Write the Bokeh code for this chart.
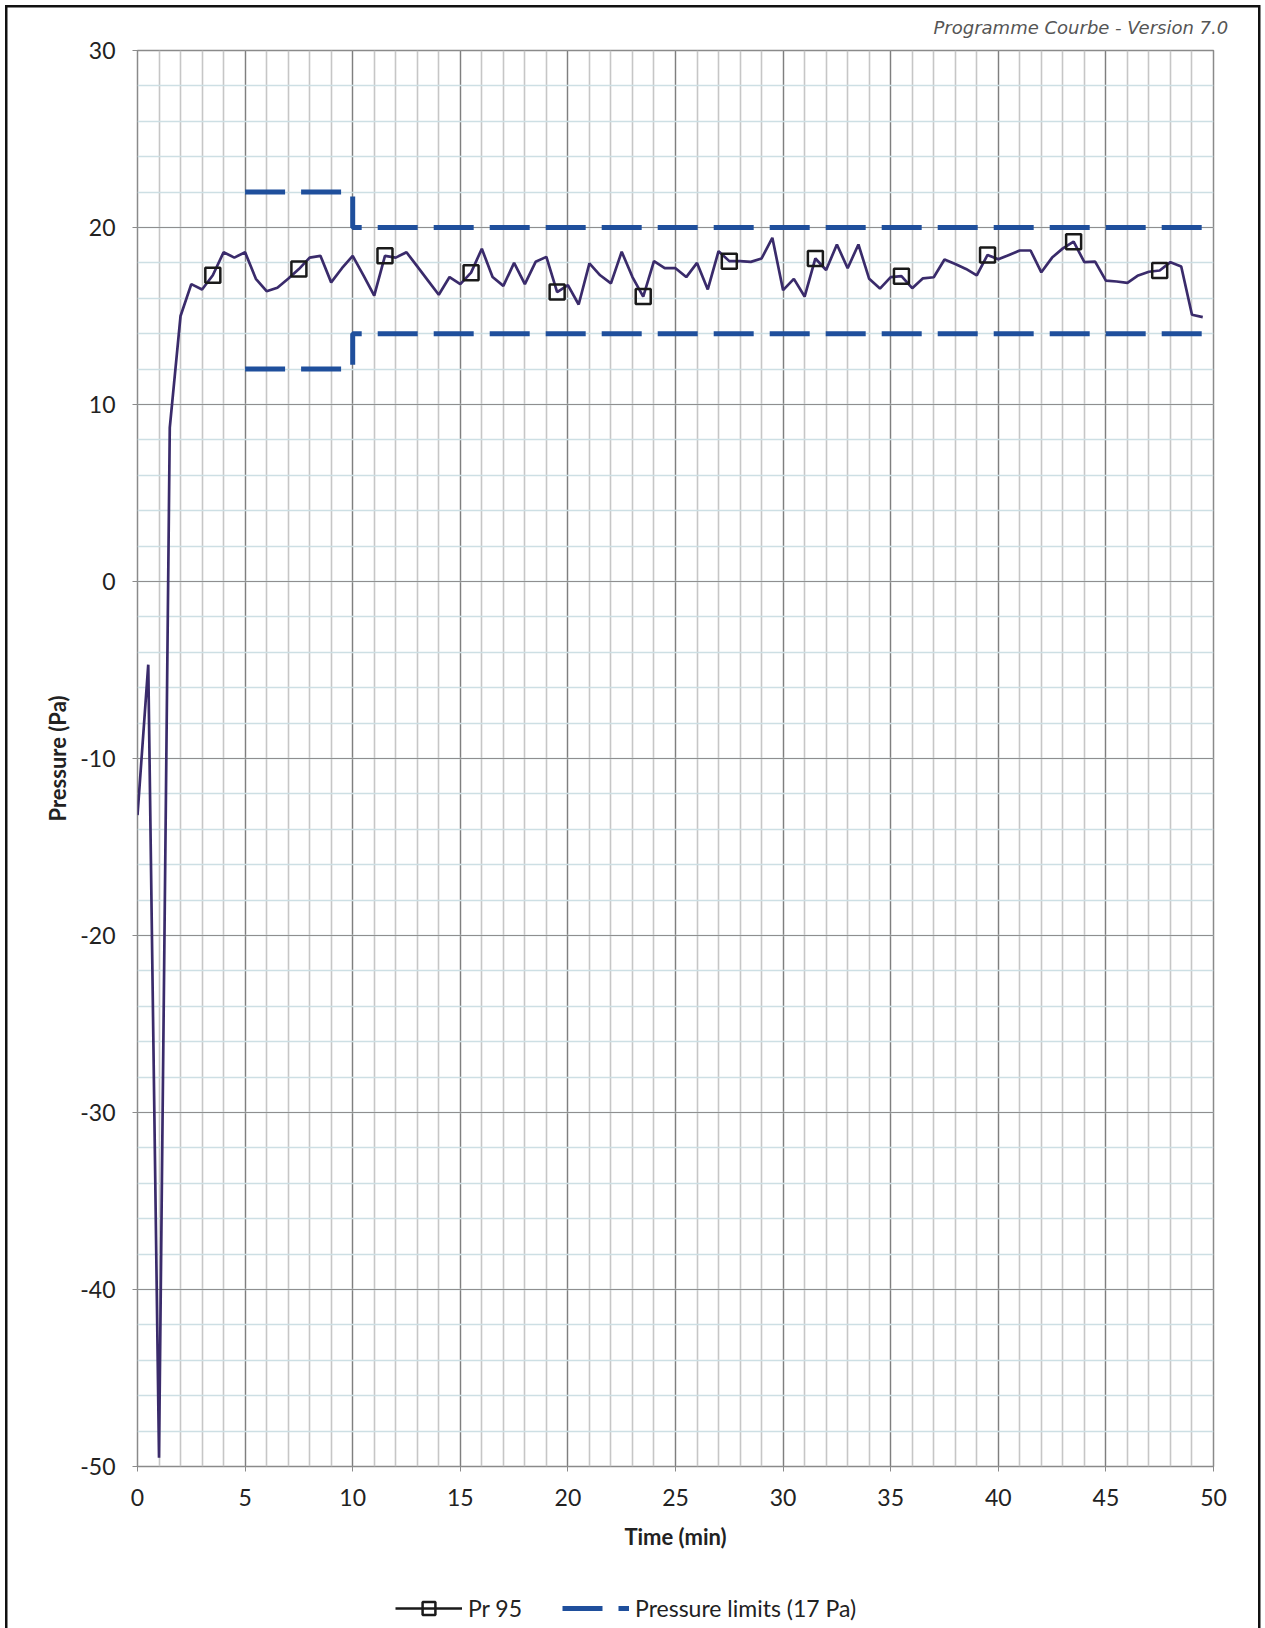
from bokeh.plotting import figure
from bokeh.layouts import column
from bokeh.models import Range1d, SingleIntervalTicker, Legend, LegendItem
from bokeh.embed import file_html
from bokeh.resources import INLINE

# ---------------- data ----------------
time_min = [0.0, 0.5, 1.0, 1.5, 2.0, 2.5, 3.0, 3.5, 4.0, 4.5,
            5.0, 5.5, 6.0, 6.5, 7.0, 7.5, 8.0, 8.5, 9.0, 9.5,
            10.0, 10.5, 11.0, 11.5, 12.0, 12.5, 13.0, 13.5, 14.0, 14.5,
            15.0, 15.5, 16.0, 16.5, 17.0, 17.5, 18.0, 18.5, 19.0, 19.5,
            20.0, 20.5, 21.0, 21.5, 22.0, 22.5, 23.0, 23.5, 24.0, 24.5,
            25.0, 25.5, 26.0, 26.5, 27.0, 27.5, 28.0, 28.5, 29.0, 29.5,
            30.0, 30.5, 31.0, 31.5, 32.0, 32.5, 33.0, 33.5, 34.0, 34.5,
            35.0, 35.5, 36.0, 36.5, 37.0, 37.5, 38.0, 38.5, 39.0, 39.5,
            40.0, 40.5, 41.0, 41.5, 42.0, 42.5, 43.0, 43.5, 44.0, 44.5,
            45.0, 45.5, 46.0, 46.5, 47.0, 47.5, 48.0, 48.5, 49.0, 49.5]

pr95 = [-13.2, -4.7, -49.5, 8.7, 15.0, 16.8, 16.5, 17.3, 18.6, 18.3,
        18.6, 17.1, 16.4, 16.6, 17.1, 17.65, 18.3, 18.4, 16.9, 17.7,
        18.4, 17.3, 16.15, 18.4, 18.3, 18.6, 17.8, 17.0, 16.2, 17.2,
        16.8, 17.45, 18.8, 17.2, 16.7, 18.0, 16.8, 18.06, 18.34, 16.35,
        16.74, 15.65, 17.97, 17.3, 16.84, 18.63, 17.2, 16.1, 18.1, 17.7,
        17.7, 17.2, 18.0, 16.5, 18.66, 18.1, 18.1, 18.06, 18.25, 19.42,
        16.46, 17.1, 16.1, 18.25, 17.6, 19.04, 17.7, 19.04, 17.1, 16.55,
        17.2, 17.25, 16.57, 17.13, 17.19, 18.19, 17.94, 17.66, 17.29, 18.45,
        18.2, 18.45, 18.7, 18.7, 17.47, 18.3, 18.82, 19.2, 18.04, 18.07,
        17.0, 16.95, 16.87, 17.29, 17.5, 17.57, 18.04, 17.8, 15.07, 14.94]

marker_time = [3.5, 7.5, 11.5, 15.5, 19.5, 23.5, 27.5, 31.5, 35.5, 39.5, 43.5, 47.5]
marker_pr = [pr95[time_min.index(t)] for t in marker_time]

limit_time = [5, 10, 10, 50]
upper_limit = [22, 22, 20, 20]
lower_limit = [12, 12, 14, 14]

y_tick_values = [-50, -40, -30, -20, -10, 0, 10, 20, 30]

series_name = "Pr 95"
limits_name = "Pressure limits (17 Pa)"
version_text = "Programme Courbe  - Version 7.0"

# ---------------- styles ----------------
FONT = "Lato"
W = 1265
H_MAIN, H_LEG = 1560, 68
DATA_COLOR = "#3a2b6b"
LIMIT_COLOR = "#1f4f9c"
MARKER_COLOR = "#1a1a1a"
LIMIT_DASH = "40 16"

# ---------------- main chart ----------------
fig = figure(width=W, height=H_MAIN, output_backend="svg", toolbar_location=None,
             x_range=Range1d(0, 50), y_range=Range1d(-50, 30),
             min_border_left=137, min_border_right=52, min_border_top=50,
             min_border_bottom=94)
fig.background_fill_color = "white"
fig.border_fill_color = None
fig.outline_line_color = "#8a8a8a"
fig.outline_line_width = 1.5

fig.title.text = version_text
fig.title.align = "left"
fig.title.offset = 796
fig.title.standoff = 25
fig.title.text_font = "DejaVu Sans"
fig.title.text_font_style = "italic"
fig.title.text_font_size = "18px"
fig.title.text_color = "#555555"

xt = SingleIntervalTicker(interval=5, num_minor_ticks=5)
yt = SingleIntervalTicker(interval=10, num_minor_ticks=5)
fig.xaxis.ticker = xt
fig.yaxis.ticker = yt
fig.xgrid.ticker = xt
fig.ygrid.ticker = yt
fig.yaxis.major_label_overrides = {v: str(v) for v in y_tick_values}

fig.xgrid.grid_line_color = "#7f7f7f"
fig.xgrid.grid_line_width = 1.2
fig.xgrid.minor_grid_line_color = "#c6c6c6"
fig.xgrid.minor_grid_line_width = 1.6
fig.ygrid.grid_line_color = "#8f8f8f"
fig.ygrid.grid_line_width = 1.2
fig.ygrid.minor_grid_line_color = "#cddfe4"
fig.ygrid.minor_grid_line_width = 1.6

for ax in (fig.xaxis, fig.yaxis):
    ax.axis_line_color = None
    ax.major_tick_line_color = "#8a8a8a"
    ax.major_tick_in = 0
    ax.major_tick_out = 5
    ax.minor_tick_line_color = None
    ax.major_label_text_font = FONT
    ax.major_label_text_font_size = "23px"
    ax.major_label_text_color = "#222222"
    ax.axis_label_text_font = FONT
    ax.axis_label_text_font_size = "22px"
    ax.axis_label_text_font_style = "bold"
    ax.axis_label_text_color = "#222222"

fig.xaxis.axis_label = "Time (min)"
fig.yaxis.axis_label = "Pressure (Pa)"
fig.xaxis.major_label_standoff = 17
fig.xaxis.axis_label_standoff = 14
fig.yaxis.major_label_standoff = 17
fig.yaxis.axis_label_standoff = 6

fig.line(limit_time, upper_limit, line_color=LIMIT_COLOR, line_width=5,
         line_dash=LIMIT_DASH)
fig.line(limit_time, lower_limit, line_color=LIMIT_COLOR, line_width=5,
         line_dash=LIMIT_DASH)
fig.line(time_min, pr95, line_color=DATA_COLOR, line_width=2.7)
fig.scatter(marker_time, marker_pr, marker="square", size=15,
            line_color=MARKER_COLOR, line_width=2.5, fill_alpha=0)

# ---------------- legend strip (same series, kept out of view) ----------------
leg = figure(width=W, height=H_LEG, output_backend="svg", toolbar_location=None,
             x_range=Range1d(0, 50), y_range=Range1d(100, 101),
             x_axis_type=None, y_axis_type=None,
             min_border_left=137, min_border_right=52, min_border_top=0,
             min_border_bottom=0)
leg.background_fill_color = None
leg.border_fill_color = None
leg.outline_line_color = None
leg.grid.visible = False

k_line = leg.line(time_min, pr95, line_color=MARKER_COLOR, line_width=2.5)
k_mark = leg.scatter(marker_time, marker_pr, marker="square", size=15,
                     line_color=MARKER_COLOR, line_width=2.5, fill_alpha=0)
k_lim = leg.line(limit_time, upper_limit, line_color=LIMIT_COLOR, line_width=5,
                 line_dash=LIMIT_DASH)

legend = Legend(items=[LegendItem(label=series_name, renderers=[k_line, k_mark]),
                       LegendItem(label=limits_name, renderers=[k_lim])],
                location=(258, 4), orientation="horizontal",
                border_line_alpha=0, background_fill_alpha=0,
                label_text_font=FONT, label_text_font_size="23px",
                label_text_color="#222222",
                glyph_width=67, glyph_height=32, spacing=40, padding=0,
                margin=0, label_standoff=6)
leg.add_layout(legend)

frame_css = ("linear-gradient(#111,#111) left 5px top 5px / 2.5px calc(100% - 5px) no-repeat, "
             "linear-gradient(#111,#111) left 5px top 5px / calc(100% - 10px) 2.5px no-repeat, "
             "linear-gradient(#111,#111) right 5px top 5px / 2.5px calc(100% - 5px) no-repeat, "
             "white")

p = column(fig, leg, spacing=0)
p.styles = {"background": frame_css}

open("out.html", "w").write(file_html(p, INLINE))
